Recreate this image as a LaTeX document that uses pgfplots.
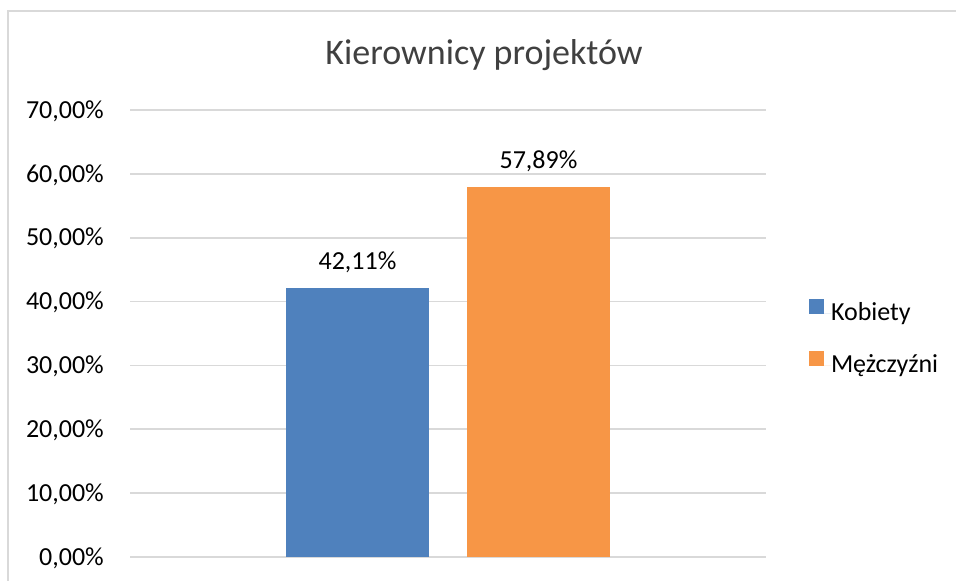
\documentclass[border=0pt]{standalone}
\usepackage{fontspec}
\setmainfont{Carlito}
\usepackage{pgfplots}
\pgfplotsset{compat=1.18}
\definecolor{cblue}{HTML}{4F81BD}
\definecolor{corange}{HTML}{F79646}
\definecolor{gridc}{HTML}{D9D9D9}
\definecolor{ttl}{HTML}{404040}
\newcommand{\fs}{\fontsize{26bp}{30bp}\selectfont}
\begin{document}
\begin{tikzpicture}[x=1bp,y=1bp]
\path[use as bounding box] (0,0) rectangle (956,581);
\draw[gridc, line width=1.4bp] (8,-10) -- (8,570) -- (970,570);
\node[ttl, font=\fontsize{36bp}{40bp}\selectfont, anchor=base, inner sep=0pt] at (484,516) {Kierownicy projektów};
\begin{axis}[
  at={(130bp,24bp)}, anchor=south west,
  scale only axis, width=636bp, height=447bp,
  ybar=38bp, bar width=143bp,
  xmin=-1, xmax=1, ymin=0, ymax=70,
  xtick=\empty, ytick={0,10,...,70},
  axis line style={draw=none},
  tick style={draw=none}, major tick length=0pt,
  ymajorgrids, grid style={gridc, line width=1.6bp},
  /pgf/number format/assume math mode=true,
  yticklabel={\pgfmathprintnumber[fixed,fixed zerofill,precision=2,use comma]{\tick}\%},
  yticklabel style={font=\fs, text=black, inner sep=0pt, anchor=base east, xshift=-26bp, yshift=-8.2bp},
  nodes near coords={\pgfmathprintnumber[fixed,fixed zerofill,precision=2,use comma]{\pgfplotspointmeta}\%},
  nodes near coords style={font=\fs, text=black, inner sep=0pt, anchor=base, yshift=19bp},
  legend style={at={(1.0676,0.578)}, anchor=north west, draw=none, fill=none, font=\fs,
    inner sep=0pt, outer sep=0pt, row sep=24bp,
    nodes={inner sep=0pt, text height=18bp, text depth=6bp}},
  legend image code/.code={\fill[#1] (0bp,1bp) rectangle (15bp,16bp);\path (0bp,1bp) -- (22bp,1bp);},
  legend cell align=left,
]
\addplot[fill=cblue, draw=none] coordinates {(0,42.11)};
\addplot[fill=corange, draw=none] coordinates {(0,57.89)};
\legend{Kobiety, Mężczyźni}
\end{axis}
\end{tikzpicture}
\end{document}
